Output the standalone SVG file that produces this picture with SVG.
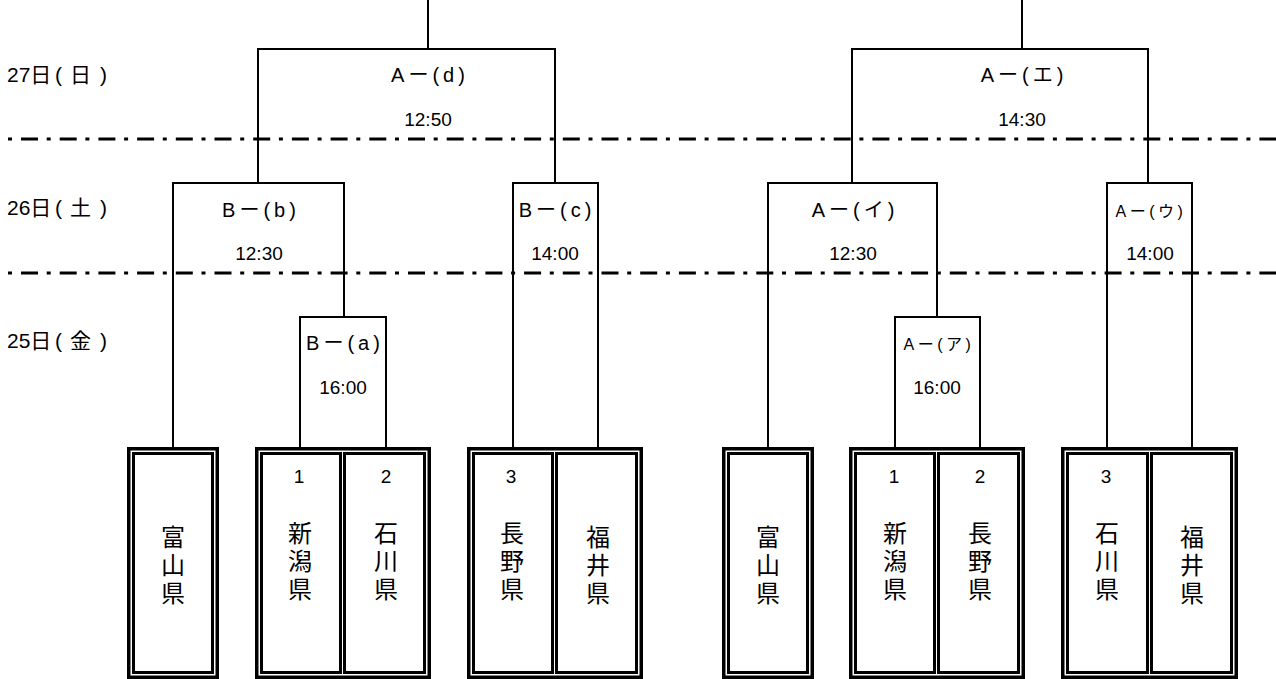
<svg xmlns="http://www.w3.org/2000/svg" width="1276" height="679" viewBox="0 0 1276 679">
<style>
.ln{stroke:#000;stroke-width:2;fill:none}
.dd{stroke:#000;stroke-width:3;fill:none;stroke-dasharray:4 9 17 8.7}
.ob{stroke:#000;stroke-width:3.5;fill:#fff}
.ib{stroke:#000;stroke-width:3;fill:none}
.day{font-family:"Liberation Sans","Noto Sans CJK JP",sans-serif;font-size:21px;fill:#000}
.lab{font-family:"Liberation Sans","Noto Sans CJK JP",sans-serif;font-size:20px;letter-spacing:4px;fill:#000;text-anchor:middle}
.labs{font-family:"Liberation Sans","Noto Sans CJK JP",sans-serif;font-size:16px;letter-spacing:3.5px;fill:#000;text-anchor:middle}
.tm{font-family:"Liberation Sans",Arial,sans-serif;font-size:19px;fill:#000;text-anchor:middle}
.num{font-family:"Liberation Sans",Arial,sans-serif;font-size:19px;fill:#000;text-anchor:middle}
.pref{font-family:"Noto Sans CJK JP",sans-serif;font-size:24px;letter-spacing:4px;fill:#000;text-anchor:middle;writing-mode:vertical-rl}
</style>
<rect width="1276" height="679" fill="#fff"/>
<g id="separators">
<path class="dd" d="M8 139H1276"/>
<path class="dd" d="M8 273H1276"/>
</g>
<g id="days">
<text class="day" x="7" y="82">27日<tspan x="55">(</tspan><tspan x="70">日</tspan><tspan x="100">)</tspan></text>
<text class="day" x="7" y="215">26日<tspan x="55">(</tspan><tspan x="70">土</tspan><tspan x="100">)</tspan></text>
<text class="day" x="7" y="348">25日<tspan x="55">(</tspan><tspan x="70">金</tspan><tspan x="100">)</tspan></text>
</g>
<g id="connectors">
<path class="ln" d="M428 0V49M258 183V49H555V183"/>
<path class="ln" d="M173 447V183H344V317"/>
<path class="ln" d="M300 447V317H386V447"/>
<path class="ln" d="M513 447V183H598V447"/>
<path class="ln" d="M1022 0V49M852 183V49H1148V183"/>
<path class="ln" d="M768 447V183H937V317"/>
<path class="ln" d="M895 447V317H980V447"/>
<path class="ln" d="M1107 447V183H1192V447"/>
</g>
<g id="match-A-d"><text class="lab" x="430" y="82">Aー(d)</text><text class="tm" x="428" y="126">12:50</text></g>
<g id="match-B-b"><text class="lab" x="261" y="217">Bー(b)</text><text class="tm" x="259" y="260">12:30</text></g>
<g id="match-B-c"><text class="lab" x="557" y="217">Bー(c)</text><text class="tm" x="555" y="260">14:00</text></g>
<g id="match-B-a"><text class="lab" x="345" y="350">Bー(a)</text><text class="tm" x="343" y="394">16:00</text></g>
<g id="match-A-e"><text class="lab" x="1024" y="82">Aー(エ)</text><text class="tm" x="1022" y="126">14:30</text></g>
<g id="match-A-i"><text class="lab" x="855" y="217">Aー(イ)</text><text class="tm" x="853" y="260">12:30</text></g>
<g id="match-A-u"><text class="labs" x="1151" y="217">Aー(ウ)</text><text class="tm" x="1150" y="260">14:00</text></g>
<g id="match-A-a"><text class="labs" x="939" y="350">Aー(ア)</text><text class="tm" x="937" y="394">16:00</text></g>

<g id="box-toyama-b">
<rect class="ob" x="128.75" y="448.75" width="88.5" height="228.5"/>
<rect class="ib" x="133.5" y="453.5" width="79" height="219"/>
<text class="pref" x="173" y="567">富山県</text>
</g>
<g id="box-niigata-ishikawa-b">
<rect class="ob" x="256.75" y="448.75" width="172.5" height="228.5"/>
<rect class="ib" x="261.5" y="453.5" width="79" height="219"/>
<rect class="ib" x="344.5" y="453.5" width="80" height="219"/>
<text class="num" x="299" y="483">1</text>
<text class="num" x="386" y="483">2</text>
<text class="pref" x="300" y="563">新潟県</text>
<text class="pref" x="386" y="563">石川県</text>
</g>
<g id="box-nagano-fukui-b">
<rect class="ob" x="468.75" y="448.75" width="172.5" height="228.5"/>
<rect class="ib" x="473.5" y="453.5" width="79" height="219"/>
<rect class="ib" x="556.5" y="453.5" width="80" height="219"/>
<text class="num" x="511" y="483">3</text>
<text class="pref" x="512" y="563">長野県</text>
<text class="pref" x="598" y="567">福井県</text>
</g>
<g id="box-toyama-a">
<rect class="ob" x="723.75" y="448.75" width="88.5" height="228.5"/>
<rect class="ib" x="728.5" y="453.5" width="79" height="219"/>
<text class="pref" x="768" y="567">富山県</text>
</g>
<g id="box-niigata-nagano-a">
<rect class="ob" x="850.75" y="448.75" width="172.5" height="228.5"/>
<rect class="ib" x="855.5" y="453.5" width="79" height="219"/>
<rect class="ib" x="938.5" y="453.5" width="80" height="219"/>
<text class="num" x="894" y="483">1</text>
<text class="num" x="980" y="483">2</text>
<text class="pref" x="895" y="563">新潟県</text>
<text class="pref" x="980" y="563">長野県</text>
</g>
<g id="box-ishikawa-fukui-a">
<rect class="ob" x="1062.75" y="448.75" width="173.5" height="228.5"/>
<rect class="ib" x="1067.5" y="453.5" width="80" height="219"/>
<rect class="ib" x="1151.5" y="453.5" width="80" height="219"/>
<text class="num" x="1106" y="483">3</text>
<text class="pref" x="1107" y="563">石川県</text>
<text class="pref" x="1192" y="567">福井県</text>
</g>
</svg>
